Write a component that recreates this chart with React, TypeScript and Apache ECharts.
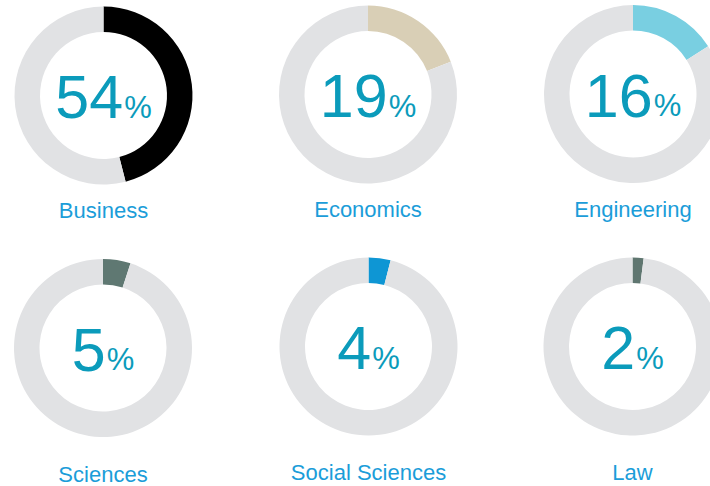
import React, { useEffect, useRef } from "react";
import * as echarts from "echarts";

// Data
const categories = ["Business", "Economics", "Engineering", "Sciences", "Social Sciences", "Law"];
const labelValues = [54, 19, 16, 5, 4, 2];
// share of the ring actually drawn in the reference (degrees / 3.6)
const arcShares = [46, 19, 16, 5, 4, 2];
const sliceColors = ["#000000", "#d9cfb6", "#79cfe1", "#5f7872", "#0e96d4", "#5f7670"];

// Layout
const centers: [number, number][] = [
  [103.5, 95.5],
  [368, 94.5],
  [633, 94],
  [103, 348],
  [368.5, 346.5],
  [632.5, 346.5],
];
const labelY = [210, 209, 209, 474, 472, 472];
const TRACK = "#e1e2e4";
const NUM_COLOR = "#0b9bbb";
const LABEL_COLOR = "#1b9dd9";
const FONT = "'Liberation Sans', Arial, Helvetica, sans-serif";

export default function App() {
  const ref = useRef<HTMLDivElement>(null);
  useEffect(() => {
    if (!ref.current) return;
    const chart = echarts.init(ref.current, undefined, { renderer: "svg" });
    const series = categories.map((name, i) => ({
      type: "pie",
      name,
      silent: true,
      animation: false,
      center: centers[i],
      radius: [63.5, 89],
      startAngle: 90,
      clockwise: true,
      avoidLabelOverlap: false,
      emphasis: { disabled: true },
      itemStyle: { borderWidth: 0 },
      labelLine: { show: false },
      data: [
        {
          value: arcShares[i],
          name,
          itemStyle: { color: sliceColors[i] },
          label: {
            show: true,
            position: "center",
            formatter: `{n|${labelValues[i]}}{p|%}`,
            rich: {
              n: { fontSize: 61, fontFamily: FONT, color: NUM_COLOR, verticalAlign: "bottom", lineHeight: 64 },
              p: { fontSize: 31, fontFamily: FONT, color: NUM_COLOR, verticalAlign: "bottom", lineHeight: 40, padding: [0, 0, 5, 1] },
            },
          },
        },
        {
          value: 100 - arcShares[i],
          name: "rest",
          itemStyle: { color: TRACK },
          label: { show: false },
        },
      ],
    }));
    const graphic = categories.map((name, i) => ({
      type: "text",
      x: centers[i][0],
      y: labelY[i],
      silent: true,
      style: {
        text: name,
        fill: LABEL_COLOR,
        font: `22px ${FONT}`,
        align: "center",
        verticalAlign: "middle",
      },
    }));
    chart.setOption({
      animation: false,
      backgroundColor: "#ffffff",
      series,
      graphic,
    });
    return () => chart.dispose();
  }, []);
  return (
    <div
      ref={ref}
      style={{ position: "fixed", left: 0, top: 0, width: 710, height: 486 }}
    />
  );
}
